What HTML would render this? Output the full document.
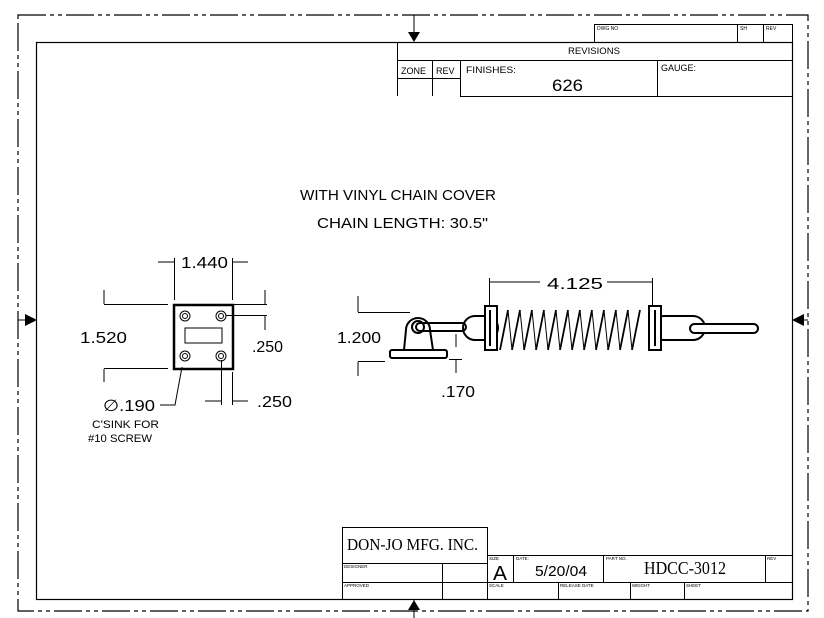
<!DOCTYPE html>
<html><head><style>body{margin:0;background:#fff}svg{display:block}text{font-family:"Liberation Sans",sans-serif;fill:#000}</style></head><body>
<svg width="824" height="618" viewBox="0 0 824 618" xmlns="http://www.w3.org/2000/svg">
<g stroke="#000" fill="none" stroke-width="1">
<rect x="18" y="15" width="790" height="596" stroke-dasharray="28 4 4 4 4 4" stroke-width="1.2"/>
<rect x="36.5" y="42.5" width="756" height="557" stroke-width="1.2"/>
<line x1="414" y1="15" x2="414" y2="32"/>
<line x1="414" y1="600" x2="414" y2="618"/>
<line x1="18" y1="320" x2="26" y2="320"/><line x1="800" y1="320" x2="808" y2="320"/>
<rect x="594.5" y="24.5" width="198" height="18"/>
<line x1="737.5" y1="24" x2="737.5" y2="43"/><line x1="763.5" y1="24" x2="763.5" y2="43"/>
<line x1="397.5" y1="42" x2="397.5" y2="96"/>
<line x1="397" y1="60.5" x2="792" y2="60.5"/>
<line x1="397" y1="78.5" x2="460" y2="78.5"/>
<line x1="432.5" y1="60" x2="432.5" y2="96"/>
<line x1="460.5" y1="60" x2="460.5" y2="96"/>
<line x1="460" y1="96.5" x2="792" y2="96.5"/>
<line x1="657.5" y1="60" x2="657.5" y2="96"/>
<rect x="342.5" y="527.5" width="145" height="36"/>
<line x1="342.5" y1="563" x2="342.5" y2="600"/>
<line x1="487.5" y1="555" x2="487.5" y2="600"/>
<line x1="487" y1="555.5" x2="792" y2="555.5"/>
<line x1="342" y1="582.5" x2="792" y2="582.5"/>
<line x1="442.5" y1="563" x2="442.5" y2="600"/>
<line x1="513.5" y1="555" x2="513.5" y2="582"/>
<line x1="603.5" y1="555" x2="603.5" y2="582"/>
<line x1="765.5" y1="555" x2="765.5" y2="582"/>
<line x1="558.5" y1="582" x2="558.5" y2="600"/>
<line x1="630.5" y1="582" x2="630.5" y2="600"/>
<line x1="684.5" y1="582" x2="684.5" y2="600"/>
<rect x="174" y="305" width="59" height="64" stroke-width="2.5"/>
<circle cx="185" cy="316" r="5"/><circle cx="185" cy="316" r="2.5"/>
<circle cx="221" cy="316" r="5"/><circle cx="221" cy="316" r="2.5"/>
<circle cx="185" cy="356" r="5"/><circle cx="185" cy="356" r="2.5"/>
<circle cx="221" cy="356" r="5"/><circle cx="221" cy="356" r="2.5"/>
<rect x="185" y="328" width="37" height="15"/>
<line x1="174.5" y1="258" x2="174.5" y2="300"/><line x1="232.5" y1="258" x2="232.5" y2="300"/>
<line x1="158" y1="262" x2="174" y2="262"/><line x1="233" y1="262" x2="248" y2="262"/>
<line x1="104" y1="304.5" x2="168" y2="304.5"/><line x1="104" y1="368.5" x2="168" y2="368.5"/>
<line x1="104" y1="290" x2="104" y2="304"/><line x1="104" y1="369" x2="104" y2="382"/>
<line x1="226" y1="304.5" x2="267" y2="304.5"/><line x1="226" y1="315.5" x2="267" y2="315.5"/>
<line x1="265" y1="290" x2="265" y2="304"/><line x1="265" y1="316" x2="265" y2="330"/>
<line x1="221.5" y1="360" x2="221.5" y2="405"/><line x1="232.5" y1="372" x2="232.5" y2="405"/>
<line x1="205" y1="401" x2="221" y2="401"/><line x1="233" y1="401" x2="248" y2="401"/>
<polyline points="160,405 175,405 182,367"/>
<line x1="358" y1="312.5" x2="410" y2="312.5"/><line x1="358" y1="361.5" x2="385" y2="361.5"/>
<line x1="358" y1="296" x2="358" y2="312"/><line x1="358" y1="362" x2="358" y2="376"/>
<line x1="456" y1="334" x2="456" y2="347"/><line x1="456" y1="360" x2="456" y2="373"/>
<line x1="449" y1="359.5" x2="462" y2="359.5"/>
<path d="M404 350 L406 330 A12 12 0 1 1 430 330 L433 350" stroke-width="2"/>
<circle cx="418" cy="327" r="6" stroke-width="2"/>
<rect x="390" y="350" width="57" height="8" rx="2" stroke-width="2"/>
<rect x="416" y="323" width="50" height="8" rx="4" stroke-width="2"/>
<rect x="463" y="316" width="35" height="24" rx="12" stroke-width="2"/>
<rect x="652" y="316" width="53" height="24" rx="12" stroke-width="2"/>
<rect x="690" y="324" width="68" height="9" rx="4.5" stroke-width="2" fill="#fff"/>
<path d="M485 306 h12 v44 h-12 z M649 306 h12 v44 h-12 z" stroke-width="2" fill="#fff"/>
<line x1="490" y1="310" x2="490" y2="346" stroke-width="2"/><line x1="655" y1="310" x2="655" y2="346" stroke-width="2"/>
<g stroke-width="1.8">
<path d="M500 350 L508 310 M512 350 L520 310 M524 350 L532 310 M536 350 L544 310 M548 350 L556 310 M560 350 L568 310 M572 350 L580 310 M584 350 L592 310 M596 350 L604 310 M608 350 L616 310 M620 350 L628 310 M632 350 L640 310"/>
<path d="M508 310 L512 350 M520 310 L524 350 M532 310 L536 350 M544 310 L548 350 M556 310 L560 350 M568 310 L572 350 M580 310 L584 350 M592 310 L596 350 M604 310 L608 350 M616 310 L620 350 M628 310 L632 350" stroke-width="1"/>
</g>
<line x1="489.5" y1="278" x2="489.5" y2="305"/><line x1="652.5" y1="278" x2="652.5" y2="305"/>
<line x1="490" y1="282" x2="540" y2="282"/><line x1="607" y1="282" x2="652" y2="282"/>
</g>
<g fill="#000">
<polygon points="408,32 420,32 414,42"/>
<polygon points="408,610 420,610 414,600"/>
<polygon points="25,314 25,326 37,320"/>
<polygon points="804,314 804,326 792,320"/>
</g>
<text x="568" y="54" font-size="9" textLength="52" lengthAdjust="spacingAndGlyphs">REVISIONS</text>
<text x="401" y="74" font-size="9">ZONE</text><text x="436" y="74" font-size="9">REV</text>
<text x="466" y="73" font-size="9" textLength="50" lengthAdjust="spacingAndGlyphs">FINISHES:</text><text x="661" y="71" font-size="9">GAUGE:</text>
<text x="552" y="91" font-size="17" textLength="31" lengthAdjust="spacingAndGlyphs">626</text>
<text x="597" y="30" font-size="5">DWG NO</text><text x="740" y="30" font-size="5">SH</text><text x="766" y="30" font-size="5">REV</text>
<text x="300" y="200" font-size="15" textLength="196" lengthAdjust="spacingAndGlyphs">WITH VINYL CHAIN COVER</text>
<text x="317" y="228" font-size="15" textLength="171" lengthAdjust="spacingAndGlyphs">CHAIN LENGTH: 30.5"</text>
<text x="181" y="268" font-size="16" textLength="47" lengthAdjust="spacingAndGlyphs">1.440</text>
<text x="80" y="343" font-size="16" textLength="47" lengthAdjust="spacingAndGlyphs">1.520</text>
<text x="252" y="352" font-size="16" textLength="31" lengthAdjust="spacingAndGlyphs">.250</text>
<text x="257" y="407" font-size="16" textLength="35" lengthAdjust="spacingAndGlyphs">.250</text>
<text x="103" y="411" font-size="16" textLength="52" lengthAdjust="spacingAndGlyphs">∅.190</text>
<text x="92" y="428" font-size="11" textLength="67" lengthAdjust="spacingAndGlyphs">C'SINK FOR</text>
<text x="88" y="442" font-size="11" textLength="64" lengthAdjust="spacingAndGlyphs">#10 SCREW</text>
<text x="547" y="289" font-size="16" textLength="56" lengthAdjust="spacingAndGlyphs">4.125</text>
<text x="337" y="343" font-size="16" textLength="44" lengthAdjust="spacingAndGlyphs">1.200</text>
<text x="441" y="397" font-size="16" textLength="34" lengthAdjust="spacingAndGlyphs">.170</text>
<text x="347" y="550" font-size="17" style="font-family:'Liberation Serif',serif" textLength="131" lengthAdjust="spacingAndGlyphs">DON-JO MFG. INC.</text>
<text x="644" y="574" font-size="18" style="font-family:'Liberation Serif',serif" textLength="82" lengthAdjust="spacingAndGlyphs">HDCC-3012</text>
<text x="493" y="580" font-size="20" textLength="14" lengthAdjust="spacingAndGlyphs">A</text>
<text x="535" y="576" font-size="15" textLength="52" lengthAdjust="spacingAndGlyphs">5/20/04</text>
<g font-size="4.5">
<text x="344" y="568">DESIGNER</text><text x="344" y="587">APPROVED</text>
<text x="489" y="560">SIZE</text><text x="516" y="560">DATE:</text><text x="606" y="560">PART NO.</text><text x="767" y="560">REV</text>
<text x="489" y="587">SCALE</text><text x="560" y="587">RELEASE DATE</text><text x="632" y="587">WEIGHT</text><text x="686" y="587">SHEET</text>
</g>
</svg>
</body></html>
